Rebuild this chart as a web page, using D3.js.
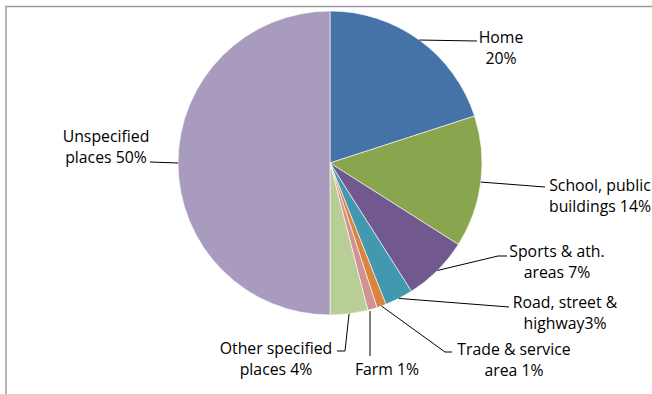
<!DOCTYPE html>
<html>
<head>
<meta charset="utf-8">
<script src="https://cdn.jsdelivr.net/npm/d3@7"></script>
<style>
  html, body { margin: 0; padding: 0; background: #fff; }
  svg { display: block; }
  text { font-family: "Open Sans", "Lato", sans-serif; font-size: 15.8px; fill: #000; }
</style>
</head>
<body>
<svg id="chart" width="652" height="394"></svg>
<script>
// Places where injuries occurred (share of cases, %)
const categories = ["Home", "School, public buildings", "Sports & ath. areas", "Road, street & highway",
                    "Trade & service area", "Farm", "Other specified places", "Unspecified places"];
const shares = [20, 14, 7, 3, 1, 1, 4, 50];
const labelLines = [
  ["Home", "20%"],
  ["School, public", "buildings 14%"],
  ["Sports & ath.", "areas 7%"],
  ["Road, street &", "highway3%"],
  ["Trade & service", "area 1%"],
  ["Farm 1%"],
  ["Other specified", "places 4%"],
  ["Unspecified", "places 50%"]
];
const colors = ["#4572A7", "#89A54E", "#71588F", "#4198AF", "#DB843D", "#D19392", "#B9CD96", "#A99BBD"];

// Label placement: text centre x, first baseline y, and leader-line bend points
const labelLayout = [
  { x: 501, y: 43, path: [[477, 41]] },
  { x: 600, y: 191, path: [[545, 187]] },
  { x: 557, y: 257, path: [[498, 256], [507, 256]] },
  { x: 565, y: 308, path: [[509, 307]] },
  { x: 514, y: 355, path: [[445, 352], [452, 352]] },
  { x: 387, y: 375, path: [[370, 356]], vertical: true },
  { x: 276, y: 354, path: [[345, 351], [337, 351]] },
  { x: 106, y: 142, path: [[150, 162]] }
];

const svg = d3.select("#chart");
const cx = 330, cy = 163, r = 152;

// chart frame
svg.append("rect")
  .attr("x", 6).attr("y", 6.5)
  .attr("width", 700).attr("height", 500)
  .attr("fill", "none").attr("stroke", "#9a9a9a").attr("stroke-width", 1.5);

const pie = d3.pie().sort(null).value(d => d)(shares);
const arc = d3.arc().innerRadius(0).outerRadius(r);

const g = svg.append("g").attr("transform", `translate(${cx},${cy})`);
g.selectAll("path.slice")
  .data(pie)
  .join("path")
  .attr("class", "slice")
  .attr("d", arc)
  .attr("fill", (d, i) => colors[i])
  .attr("stroke", "#fff")
  .attr("stroke-width", 0.6);

// leader lines from each slice's outer midpoint
const line = d3.line();
pie.forEach((d, i) => {
  const a = (d.startAngle + d.endAngle) / 2;
  let start = [cx + r * Math.sin(a), cy - r * Math.cos(a)];
  const lay = labelLayout[i];
  if (lay.vertical) start = [lay.path[0][0], start[1] + 2];
  svg.append("path")
    .attr("d", line([start, ...lay.path]))
    .attr("fill", "none")
    .attr("stroke", "#000")
    .attr("stroke-width", 1);
});

// labels
labelLines.forEach((lines, i) => {
  const lay = labelLayout[i];
  const t = svg.append("text").attr("text-anchor", "middle");
  lines.forEach((s, k) => {
    t.append("tspan").attr("x", lay.x).attr("y", lay.y + k * 21).text(s);
  });
});
</script>
</body>
</html>
